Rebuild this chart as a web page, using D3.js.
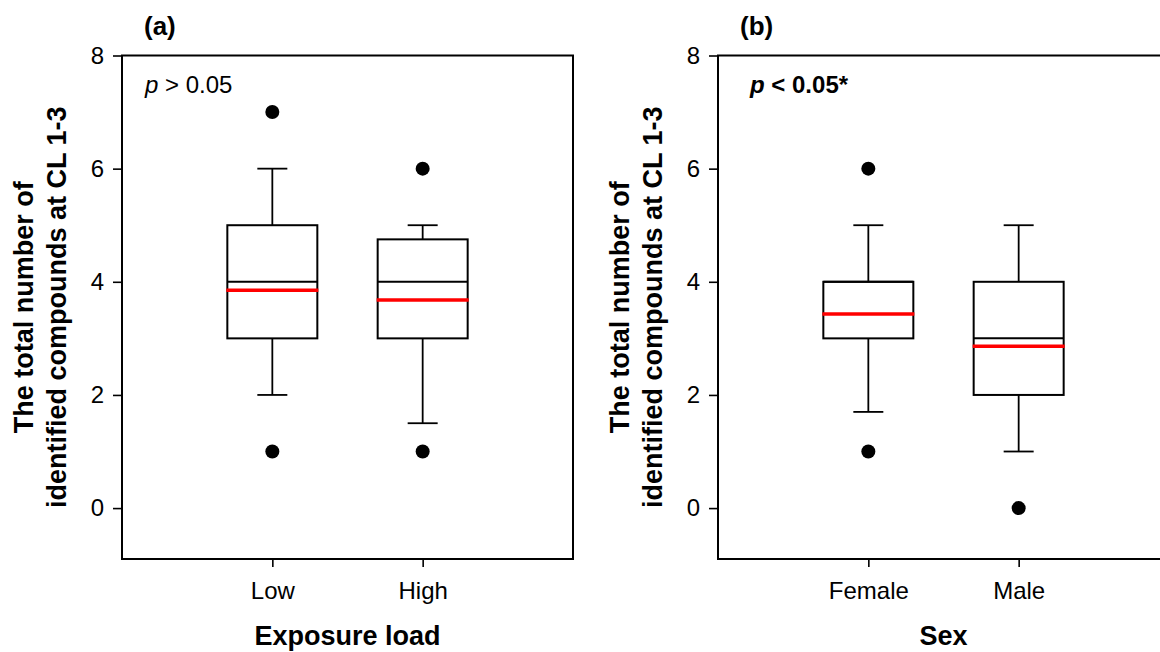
<!DOCTYPE html>
<html>
<head>
<meta charset="utf-8">
<script src="https://cdn.jsdelivr.net/npm/d3@7"></script>
<style>
  body { margin: 0; background: #fff; }
  svg { display: block; font-family: "Liberation Sans", Arial, sans-serif; }
  .tick text { font-size: 24px; fill: #000; }
  .tick line { stroke: #000; stroke-width: 1.6px; }
</style>
</head>
<body>
<div id="chart"></div>
<script>
"use strict";
// panel (a) - exposure load
const categoriesA = ["Low", "High"];
const q1A = [3, 3];
const medianA = [4, 4];
const q3A = [5, 4.75];
const whiskerLowA = [2, 1.5];
const whiskerHighA = [6, 5];
const meanA = [3.85, 3.68];
const outliersA = [[1, 7], [1, 6]];

// panel (b) - sex
const categoriesB = ["Female", "Male"];
const q1B = [3, 2];
const medianB = [4, 3];
const q3B = [4, 4];
const whiskerLowB = [1.7, 1];
const whiskerHighB = [5, 5];
const meanB = [3.43, 2.86];
const outliersB = [[1, 6], [0]];

const yTicks = [0, 2, 4, 6, 8];
const yDomain = [-0.9, 8];

const width = 1160, height = 652;
const plotW = 451, plotTop = 55.5, plotBottom = 559;
const boxW = 90, capW = 30;

var svg = d3.select("#chart")
    .append("svg")
    .attr("width", width)
    .attr("height", height);

var yScale = d3.scaleLinear().domain(yDomain).range([plotBottom, plotTop]);

function buildRows(cats, q1, med, q3, lo, hi, mean, outl) {
    return cats.map(function (c, i) {
        return { name: c, q1: q1[i], median: med[i], q3: q3[i], lo: lo[i], hi: hi[i], mean: mean[i], outliers: outl[i] };
    });
}

function drawPanel(left, rows, label, xTitle, pText, pBold, pOffset) {
    const g = svg.append("g").attr("transform", `translate(${left},0)`);
    const xScale = d3.scalePoint()
        .domain(rows.map(d => d.name))
        .range([0, plotW])
        .padding(1);

    // y axis
    g.append("g")
        .call(d3.axisLeft(yScale).tickValues(yTicks).tickSize(9).tickPadding(9))
        .call(a => a.select(".domain").remove());

    // x axis
    g.append("g")
        .attr("transform", `translate(0,${plotBottom})`)
        .call(d3.axisBottom(xScale).tickSize(8).tickPadding(15))
        .call(a => a.select(".domain").remove());

    // frame
    g.append("rect")
        .attr("x", 0).attr("y", plotTop)
        .attr("width", plotW).attr("height", plotBottom - plotTop)
        .attr("fill", "none").attr("stroke", "#000").attr("stroke-width", 2);

    const boxes = g.selectAll(".box").data(rows).enter()
        .append("g").attr("class", "box")
        .attr("transform", d => `translate(${xScale(d.name)},0)`);

    // whiskers
    boxes.append("line")
        .attr("x1", 0).attr("x2", 0)
        .attr("y1", d => yScale(d.hi)).attr("y2", d => yScale(d.q3))
        .attr("stroke", "#000").attr("stroke-width", 1.8);
    boxes.append("line")
        .attr("x1", 0).attr("x2", 0)
        .attr("y1", d => yScale(d.q1)).attr("y2", d => yScale(d.lo))
        .attr("stroke", "#000").attr("stroke-width", 1.8);
    boxes.append("line")
        .attr("x1", -capW / 2).attr("x2", capW / 2)
        .attr("y1", d => yScale(d.hi)).attr("y2", d => yScale(d.hi))
        .attr("stroke", "#000").attr("stroke-width", 1.8);
    boxes.append("line")
        .attr("x1", -capW / 2).attr("x2", capW / 2)
        .attr("y1", d => yScale(d.lo)).attr("y2", d => yScale(d.lo))
        .attr("stroke", "#000").attr("stroke-width", 1.8);

    // box
    boxes.append("rect")
        .attr("x", -boxW / 2)
        .attr("y", d => yScale(d.q3))
        .attr("width", boxW)
        .attr("height", d => yScale(d.q1) - yScale(d.q3))
        .attr("fill", "#fff").attr("stroke", "#000").attr("stroke-width", 2);

    // median
    boxes.append("line")
        .attr("x1", -boxW / 2).attr("x2", boxW / 2)
        .attr("y1", d => yScale(d.median)).attr("y2", d => yScale(d.median))
        .attr("stroke", "#000").attr("stroke-width", 2);

    // mean
    boxes.append("line")
        .attr("x1", -boxW / 2 - 1).attr("x2", boxW / 2 + 1)
        .attr("y1", d => yScale(d.mean)).attr("y2", d => yScale(d.mean))
        .attr("stroke", "#ff0000").attr("stroke-width", 3.5);

    // outliers
    boxes.selectAll(".outlier").data(d => d.outliers).enter()
        .append("circle")
        .attr("class", "outlier")
        .attr("cx", 0)
        .attr("cy", v => yScale(v))
        .attr("r", 7)
        .attr("fill", "#000");

    // panel label
    g.append("text")
        .attr("x", 22).attr("y", 35)
        .attr("font-size", 26).attr("font-weight", "bold")
        .text(label);

    // p value
    const pt = g.append("text")
        .attr("x", pOffset).attr("y", 93)
        .attr("font-size", 24)
        .attr("font-weight", pBold ? "bold" : "normal");
    pt.append("tspan").attr("font-style", "italic").text("p");
    pt.append("tspan").text(pText);

    // x title
    g.append("text")
        .attr("x", plotW / 2).attr("y", 645)
        .attr("text-anchor", "middle")
        .attr("font-size", 27).attr("font-weight", "bold")
        .text(xTitle);

    // y title
    const cy = (plotTop + plotBottom) / 2;
    const yt = g.append("g").attr("transform", `translate(0,${cy}) rotate(-90)`);
    yt.append("text")
        .attr("x", 0).attr("y", -89)
        .attr("text-anchor", "middle")
        .attr("font-size", 27).attr("font-weight", "bold")
        .text("The total number of");
    yt.append("text")
        .attr("x", 0).attr("y", -56)
        .attr("text-anchor", "middle")
        .attr("font-size", 27).attr("font-weight", "bold")
        .text("identified compounds at CL 1-3");
}

drawPanel(122, buildRows(categoriesA, q1A, medianA, q3A, whiskerLowA, whiskerHighA, meanA, outliersA),
    "(a)", "Exposure load", " > 0.05", false, 23);
drawPanel(718, buildRows(categoriesB, q1B, medianB, q3B, whiskerLowB, whiskerHighB, meanB, outliersB),
    "(b)", "Sex", " < 0.05*", true, 32);
</script>
</body>
</html>
